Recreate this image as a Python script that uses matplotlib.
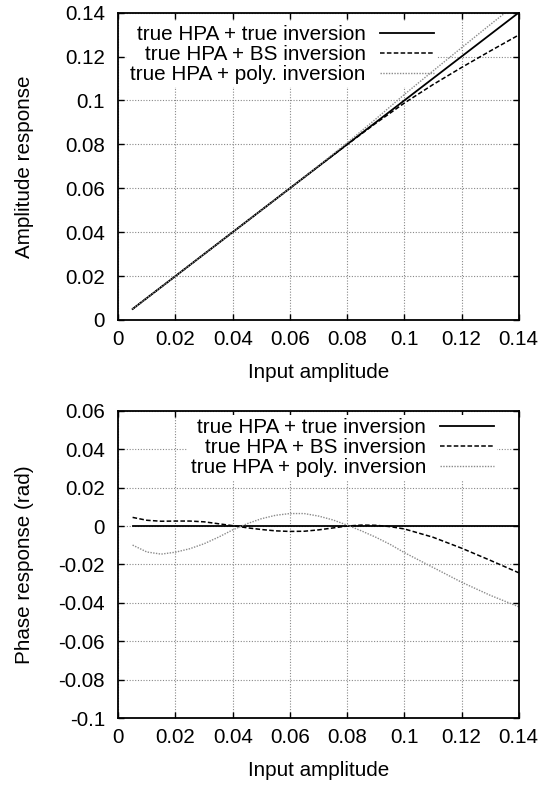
import numpy as np
import matplotlib
matplotlib.use("Agg")
import matplotlib.pyplot as plt
from matplotlib.ticker import FuncFormatter, MultipleLocator

plt.rcParams['font.family'] = ['Liberation Sans', 'DejaVu Sans']
plt.rcParams['axes.unicode_minus'] = False

# amplitude response (top)
x_amp = [0.005, 0.02, 0.04, 0.06, 0.07, 0.08, 0.09, 0.10, 0.11, 0.12, 0.13, 0.14]
amp_true = [0.005, 0.02, 0.04, 0.06, 0.07, 0.08, 0.09, 0.10, 0.11, 0.12, 0.13, 0.14]
amp_bs = [0.005, 0.02, 0.04, 0.06, 0.07, 0.0799, 0.0896, 0.0988, 0.1072, 0.1150, 0.1225, 0.1298]
amp_poly = [0.005, 0.02, 0.04, 0.06, 0.0702, 0.0807, 0.0915, 0.1027, 0.1134, 0.1240, 0.1345, 0.1448]

# phase response (bottom)
x_ph = [0.005, 0.01, 0.015, 0.02, 0.025, 0.03, 0.035, 0.04, 0.045, 0.05, 0.055, 0.06,
        0.065, 0.07, 0.075, 0.08, 0.085, 0.09, 0.095, 0.10, 0.11, 0.12, 0.13, 0.14]
ph_true = [0.0] * len(x_ph)
ph_bs = [0.0045, 0.0030, 0.0025, 0.0026, 0.0026, 0.0022, 0.0012, 0.0002, -0.0009, -0.0018,
         -0.0025, -0.0028, -0.0027, -0.0020, -0.0010, 0.0000, 0.0005, 0.0004, -0.0003, -0.0015,
         -0.0058, -0.0115, -0.0178, -0.0243]
ph_poly = [-0.0099, -0.0135, -0.0146, -0.0136, -0.0118, -0.0092, -0.0058, -0.0020, 0.0012, 0.0038,
           0.0056, 0.0065, 0.0065, 0.0052, 0.0032, 0.0005, -0.0025, -0.0058, -0.0095, -0.0138,
           -0.0215, -0.0292, -0.0360, -0.0420]

labels = ['true HPA + true inversion', 'true HPA + BS inversion', 'true HPA + poly. inversion']
fs = 14.9

fig = plt.figure(figsize=(5.52, 7.85), dpi=100)
ax1 = fig.add_axes([0.2143, 0.5924, 0.7254, 0.3915])
ax2 = fig.add_axes([0.2143, 0.0850, 0.7254, 0.3918])

fmt = FuncFormatter(lambda v, p: '%g' % (round(v, 4) + 0.0))


def style(ax, ylo, yhi):
    ax.set_xlim(0, 0.14)
    ax.set_ylim(ylo, yhi)
    ax.xaxis.set_major_locator(MultipleLocator(0.02))
    ax.yaxis.set_major_locator(MultipleLocator(0.02))
    ax.xaxis.set_major_formatter(fmt)
    ax.yaxis.set_major_formatter(fmt)
    ax.grid(True, color='#888888', linestyle=(0, (1, 1.5)), linewidth=0.8)
    ax.tick_params(direction='in', top=True, right=True, length=4.3, width=1,
                   labelsize=fs)
    ax.tick_params(axis='x', pad=7)
    ax.tick_params(axis='y', pad=9.5)
    for s in ax.spines.values():
        s.set_linewidth(1.3)
    ax.xaxis.set_label_coords(0.5, -0.139)
    ax.yaxis.set_label_coords(-0.21, 0.5)
    ax.set_xlabel('Input amplitude', fontsize=fs)


style(ax1, 0, 0.14)
ax1.plot(x_amp, amp_true, color='black', lw=1.3, label=labels[0])
ax1.plot(x_amp, amp_bs, color='black', lw=1.1, linestyle=(0, (3, 1.5)), label=labels[1])
ax1.plot(x_amp, amp_poly, color='#8a8a8a', lw=1.0, linestyle=(0, (1, 1)), label=labels[2])
ax1.set_ylabel('Amplitude response', fontsize=fs)

style(ax2, -0.1, 0.06)
ax2.plot(x_ph, ph_true, color='black', lw=1.3, label=labels[0])
ax2.plot(x_ph, ph_bs, color='black', lw=1.1, linestyle=(0, (3, 1.5)), label=labels[1])
ax2.plot(x_ph, ph_poly, color='#8a8a8a', lw=1.0, linestyle=(0, (1, 1)), label=labels[2])
ax2.set_ylabel('Phase response (rad)', fontsize=fs)

for ax, anchor in [(ax1, (0.7964, 0.970)), (ax2, (0.9465, 0.9854))]:
    leg = ax.legend(loc='upper right', bbox_to_anchor=anchor, fontsize=fs,
                    markerfirst=False, handlelength=2.6, handletextpad=0.7,
                    labelspacing=0.05, borderpad=0.15, borderaxespad=0,
                    frameon=True, fancybox=False, framealpha=1,
                    facecolor='white', edgecolor='none')
    leg.set_zorder(1.8)

fig.savefig('out.png', dpi=100)
